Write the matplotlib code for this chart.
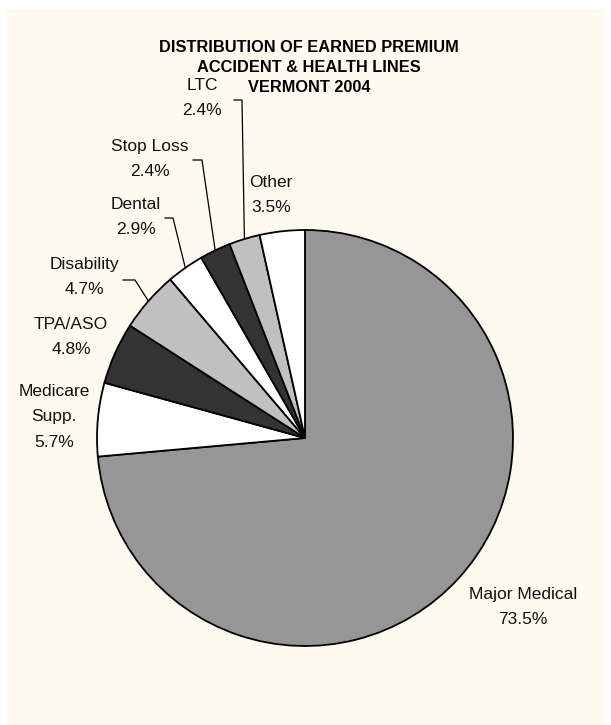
import numpy as np
import matplotlib
matplotlib.use("Agg")
import matplotlib.pyplot as plt
from matplotlib.patches import Rectangle

plt.rcParams['font.family'] = ['Liberation Sans', 'DejaVu Sans']

# earned premium shares, clockwise from 12 o'clock
lines = ["Major Medical", "Medicare\nSupp.", "TPA/ASO", "Disability",
         "Dental", "Stop Loss", "LTC", "Other"]
shares = [73.5, 5.7, 4.8, 4.7, 2.9, 2.4, 2.4, 3.5]
fills = ["#969696", "#ffffff", "#333333", "#c0c0c0",
         "#ffffff", "#333333", "#c0c0c0", "#ffffff"]
title_lines = ["DISTRIBUTION OF EARNED PREMIUM",
               "ACCIDENT & HEALTH LINES",
               "VERMONT 2004"]

W, H = 611, 725
cx, cy, R = 305, 438, 208   # pie centre / radius in pixels


def to_data(px, py):
    return (px - cx) / R, (cy - py) / R


fig = plt.figure(figsize=(W / 100, H / 100), dpi=100)
fig.patch.set_facecolor("white")
fig.patches.append(Rectangle((7 / W, 0), (W - 13) / W, (H - 9) / H,
                             transform=fig.transFigure, facecolor="#fffaf0",
                             edgecolor="none", zorder=-5))

ax = fig.add_axes([(cx - R) / W, (H - cy - R) / H, 2 * R / W, 2 * R / H])
ax.set_facecolor("none")
wedges, _ = ax.pie(shares, colors=fills, startangle=90, counterclock=False,
                   wedgeprops=dict(edgecolor="black", linewidth=1.3))
ax.set_xlim(-1, 1)
ax.set_ylim(-1, 1)
ax.set_aspect("equal")
ax.axis("off")

# label centres (pixels)
label_pos = {
    "Major Medical": (523, 607),
    "Medicare\nSupp.": (54, 417),
    "TPA/ASO": (71, 337),
    "Disability": (84, 277),
    "Dental": (136, 217),
    "Stop Loss": (150, 159),
    "LTC": (202, 98),
    "Other": (271, 195),
}
# leader elbows (pixels): corner point and end of the short horizontal tick
leaders = {
    "Disability": ((135, 280), (123, 280)),
    "Dental": ((173, 218), (165, 218)),
    "Stop Loss": ((202, 160), (193, 160)),
    "LTC": ((242, 100), (234, 100)),
}

for w, name, val in zip(wedges, lines, shares):
    x, y = to_data(*label_pos[name])
    ax.text(x, y, f"{name}\n{val}%", ha="center", va="center",
            fontsize=12.5, linespacing=1.9, color="#111111")
    if name in leaders:
        mid = np.deg2rad((w.theta1 + w.theta2) / 2)
        ex, ey = np.cos(mid), np.sin(mid)
        (kx, ky), (tx, ty) = [to_data(*p) for p in leaders[name]]
        ax.plot([ex, kx, tx], [ey, ky, ty], color="black", lw=0.9,
                clip_on=False)

for i, t in enumerate(title_lines):
    fig.text(309 / W, 1 - (48 + 20 * i) / H, t, ha="center", va="center",
             fontsize=11.8, fontweight="bold")

fig.savefig("out.png", dpi=100)
